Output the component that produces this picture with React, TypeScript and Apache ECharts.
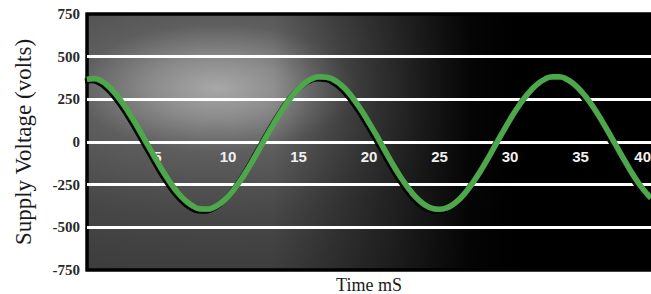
import React, { useEffect, useRef } from "react";
import * as echarts from "echarts";

const timeMs: number[] = [
  0, 0.5, 1, 1.5, 2, 2.5, 3, 3.5, 4, 4.5, 5, 5.5, 6, 6.5, 7, 7.5, 8, 8.5, 9, 9.5,
  10, 10.5, 11, 11.5, 12, 12.5, 13, 13.5, 14, 14.5, 15, 15.5, 16, 16.5, 17, 17.5,
  18, 18.5, 19, 19.5, 20, 20.5, 21, 21.5, 22, 22.5, 23, 23.5, 24, 24.5, 25, 25.5,
  26, 26.5, 27, 27.5, 28, 28.5, 29, 29.5, 30, 30.5, 31, 31.5, 32, 32.5, 33, 33.5,
  34, 34.5, 35, 35.5, 36, 36.5, 37, 37.5, 38, 38.5, 39, 39.5, 40,
];
const voltage: number[] = [
  368, 372, 358, 329, 285, 231, 169, 101, 29, -44, -117, -186, -248, -302, -344,
  -374, -391, -393, -382, -357, -320, -270, -212, -146, -74, 0, 72, 142, 207, 264,
  312, 349, 373, 382, 380, 365, 336, 295, 242, 182, 114, 44, -30, -103, -173,
  -236, -292, -337, -370, -389, -394, -386, -363, -328, -280, -223, -158, -88,
  -14, 59, 130, 196, 254, 304, 343, 370, 383, 383, 369, 342, 303, 253, 193, 127,
  56, -16, -90, -160, -226, -282, -328,
];
const yTicks = { min: -750, max: 750, step: 250 };
const xTicks = { min: 0, max: 40, step: 5 };

export default function App() {
  const ref = useRef<HTMLDivElement>(null);
  useEffect(() => {
    if (!ref.current) return;
    const chart = echarts.init(ref.current, null, { renderer: "svg" });
    const data = timeMs.map((t, i) => [t, voltage[i]]);
    const gridPos = {
      left: 87,
      right: 0,
      top: 14,
      bottom: 24,
      containLabel: false,
      outerBoundsMode: "none",
    };
    chart.setOption({
      animation: false,
      backgroundColor: "#ffffff",
      grid: [
        {
          ...gridPos,
          show: true,
          borderColor: "#000000",
          borderWidth: 3,
          backgroundColor: new echarts.graphic.RadialGradient(0.23, 0.29, 1.0, [
            { offset: 0, color: "#a8a8a8" },
            { offset: 0.12, color: "#8a8a8a" },
            { offset: 0.25, color: "#5e5e5e" },
            { offset: 0.5, color: "#474747" },
            { offset: 0.8, color: "#3a3a3a" },
            { offset: 1, color: "#323232" },
          ]),
        },
        {
          ...gridPos,
          show: true,
          borderColor: "#000000",
          borderWidth: 3,
          backgroundColor: new echarts.graphic.LinearGradient(0, 0, 1, 0, [
            { offset: 0, color: "rgba(0,0,0,0)" },
            { offset: 0.33, color: "rgba(0,0,0,0)" },
            { offset: 0.55, color: "rgba(0,0,0,0.55)" },
            { offset: 0.68, color: "rgba(0,0,0,0.93)" },
            { offset: 0.76, color: "rgba(0,0,0,1)" },
            { offset: 1, color: "rgba(0,0,0,1)" },
          ]),
        },
      ],
      xAxis: {
        type: "value",
        gridIndex: 0,
        min: xTicks.min,
        max: xTicks.max,
        interval: xTicks.step,
        position: "bottom",
        axisLine: { show: false, onZero: false },
        axisTick: { show: false },
        splitLine: { show: false },
        axisLabel: {
          color: "#f0f0f0",
          fontSize: 15,
          fontWeight: "bold",
          fontFamily: "'Liberation Sans', Arial, sans-serif",
          margin: -121,
          alignMaxLabel: "right",
          formatter: (v: number) => (v === 0 ? "" : String(v)),
        },
        name: "Time mS",
        nameLocation: "middle",
        nameGap: 2,
        nameTextStyle: {
          fontFamily: "'Liberation Serif', 'Times New Roman', serif",
          fontSize: 18,
          lineHeight: 18,
          color: "#1a1a1a",
          verticalAlign: "top",
        },
        z: 3,
      },
      yAxis: {
        type: "value",
        gridIndex: 0,
        min: yTicks.min,
        max: yTicks.max,
        interval: yTicks.step,
        axisLine: { show: false },
        axisTick: { show: false },
        splitLine: {
          show: true,
          showMinLine: false,
          showMaxLine: false,
          lineStyle: { color: "#ffffff", width: 3 },
        },
        axisLabel: {
          color: "#2a2a2a",
          fontSize: 15,
          fontWeight: "bold",
          fontFamily: "'Liberation Serif', 'Times New Roman', serif",
          margin: 7,
        },
        name: "Supply Voltage (volts)",
        nameLocation: "middle",
        nameRotate: 90,
        nameGap: 52,
        nameTextStyle: {
          fontFamily: "'Liberation Serif', 'Times New Roman', serif",
          fontSize: 23,
          color: "#1a1a1a",
        },
      },
      series: [
        {
          type: "line",
          data,
          smooth: true,
          showSymbol: false,
          symbol: "none",
          lineStyle: {
            color: "#4da84c",
            width: 5.5,
            shadowColor: "rgba(0,0,0,0.95)",
            shadowOffsetX: -2,
            shadowOffsetY: 2,
            shadowBlur: 1,
          },
          z: 4,
        },
      ],
    });
    return () => chart.dispose();
  }, []);
  return (
    <div
      ref={ref}
      style={{ position: "absolute", left: 0, top: 0, width: 651, height: 294 }}
    />
  );
}
